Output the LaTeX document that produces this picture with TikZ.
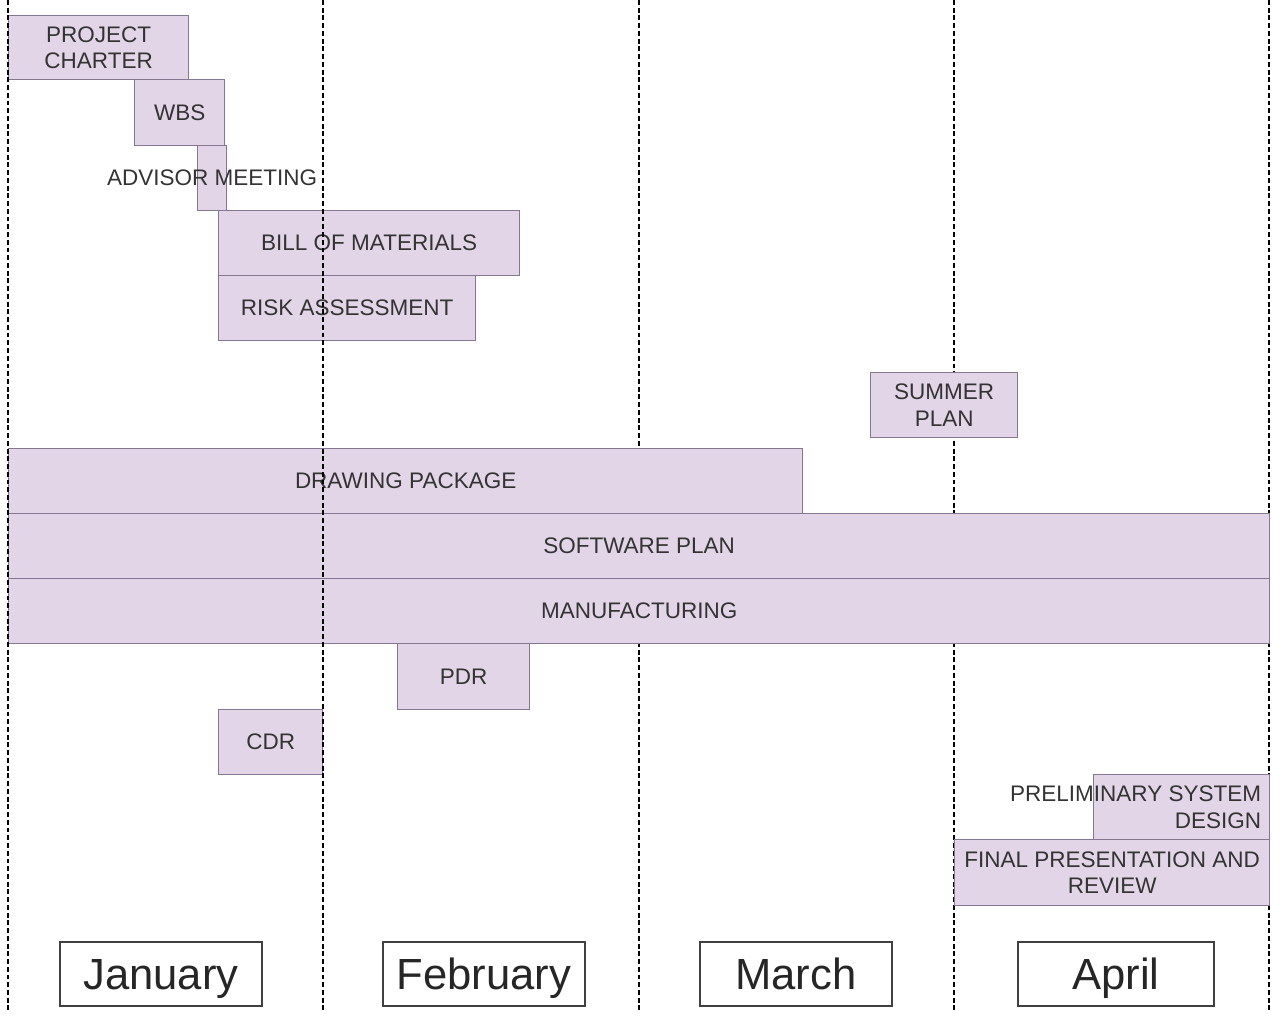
\documentclass[tikz,border=0pt]{standalone}
\usepackage{fontspec}
\setmainfont{Liberation Sans}
\usetikzlibrary{positioning}
\definecolor{taskfill}{HTML}{E1D5E7}
\definecolor{taskline}{HTML}{857691}
\tikzset{
    every node/.append style={font=\fontsize{16}{19}\selectfont, text=black!80},
    task/.style={fill=taskfill, draw=taskline, line width=0.9pt, inner sep=0pt, anchor=north west, align=center},
    size/.style 2 args={minimum width=#1*0.025cm, minimum height=#2*0.025cm},
    month/.style={draw=black!75, line width=1.4pt, fill=white, inner sep=0pt, anchor=north west, font=\fontsize{31}{37}\selectfont, text=black!85, text height=25pt, text depth=3pt},
    divider/.style={line width=1.1pt, dash pattern=on 3.5pt off 2pt},
    x=0.025cm, y=-0.025cm
}

\begin{document}
\begin{tikzpicture}
\useasboundingbox (0,0) rectangle (1280,1015);

\draw[divider] (639,0) -- (639,1012);
\draw[divider] (954,0) -- (954,1012);
\draw[divider] (1269,0) -- (1269,1012);

\node[task, size={180}{64}] (charter) at (8,15) {PROJECT\\CHARTER};
\node[task, size={90}{66}] (wbs) at (134,79) {WBS};
\node[task, size={29}{65}, label=center:ADVISOR MEETING] (advisor) at (197,145) {};
\node[task, size={301}{65}] (bom) at (218,210) {BILL OF MATERIALS};
\node[task, size={257}{65}] (risk) at (218,275) {RISK ASSESSMENT};
\node[task, size={147}{65}] (summer) at (870,372) {SUMMER\\PLAN};
\node[task, size={794}{65}] (drawing) at (8,448) {DRAWING PACKAGE};
\node[task, size={1261}{65}] (software) at (8,513) {SOFTWARE PLAN};
\node[task, size={1261}{65}] (manuf) at (8,578) {MANUFACTURING};
\node[task, size={132}{66}] (pdr) at (397,643) {PDR};
\node[task, size={104}{65}] (cdr) at (218,709) {CDR};
\node[task, size={176}{65}, label={[anchor=east, align=right, xshift=-3pt]east:{PRELIMINARY SYSTEM\\DESIGN}}] (prelim) at (1093,774) {};
\node[task, size={315}{66}] (final) at (954,839) {FINAL PRESENTATION AND\\REVIEW};

\draw[divider] (8,0) -- (8,1012);
\draw[divider] (323,0) -- (323,1012);

\node[month, size={202}{64}] (jan) at (59,941) {January};
\node[month, size={202}{64}] (feb) at (382,941) {February};
\node[month, size={192}{64}] (mar) at (699,941) {March};
\node[month, size={196}{64}] (apr) at (1017,941) {April};
\end{tikzpicture}
\end{document}
